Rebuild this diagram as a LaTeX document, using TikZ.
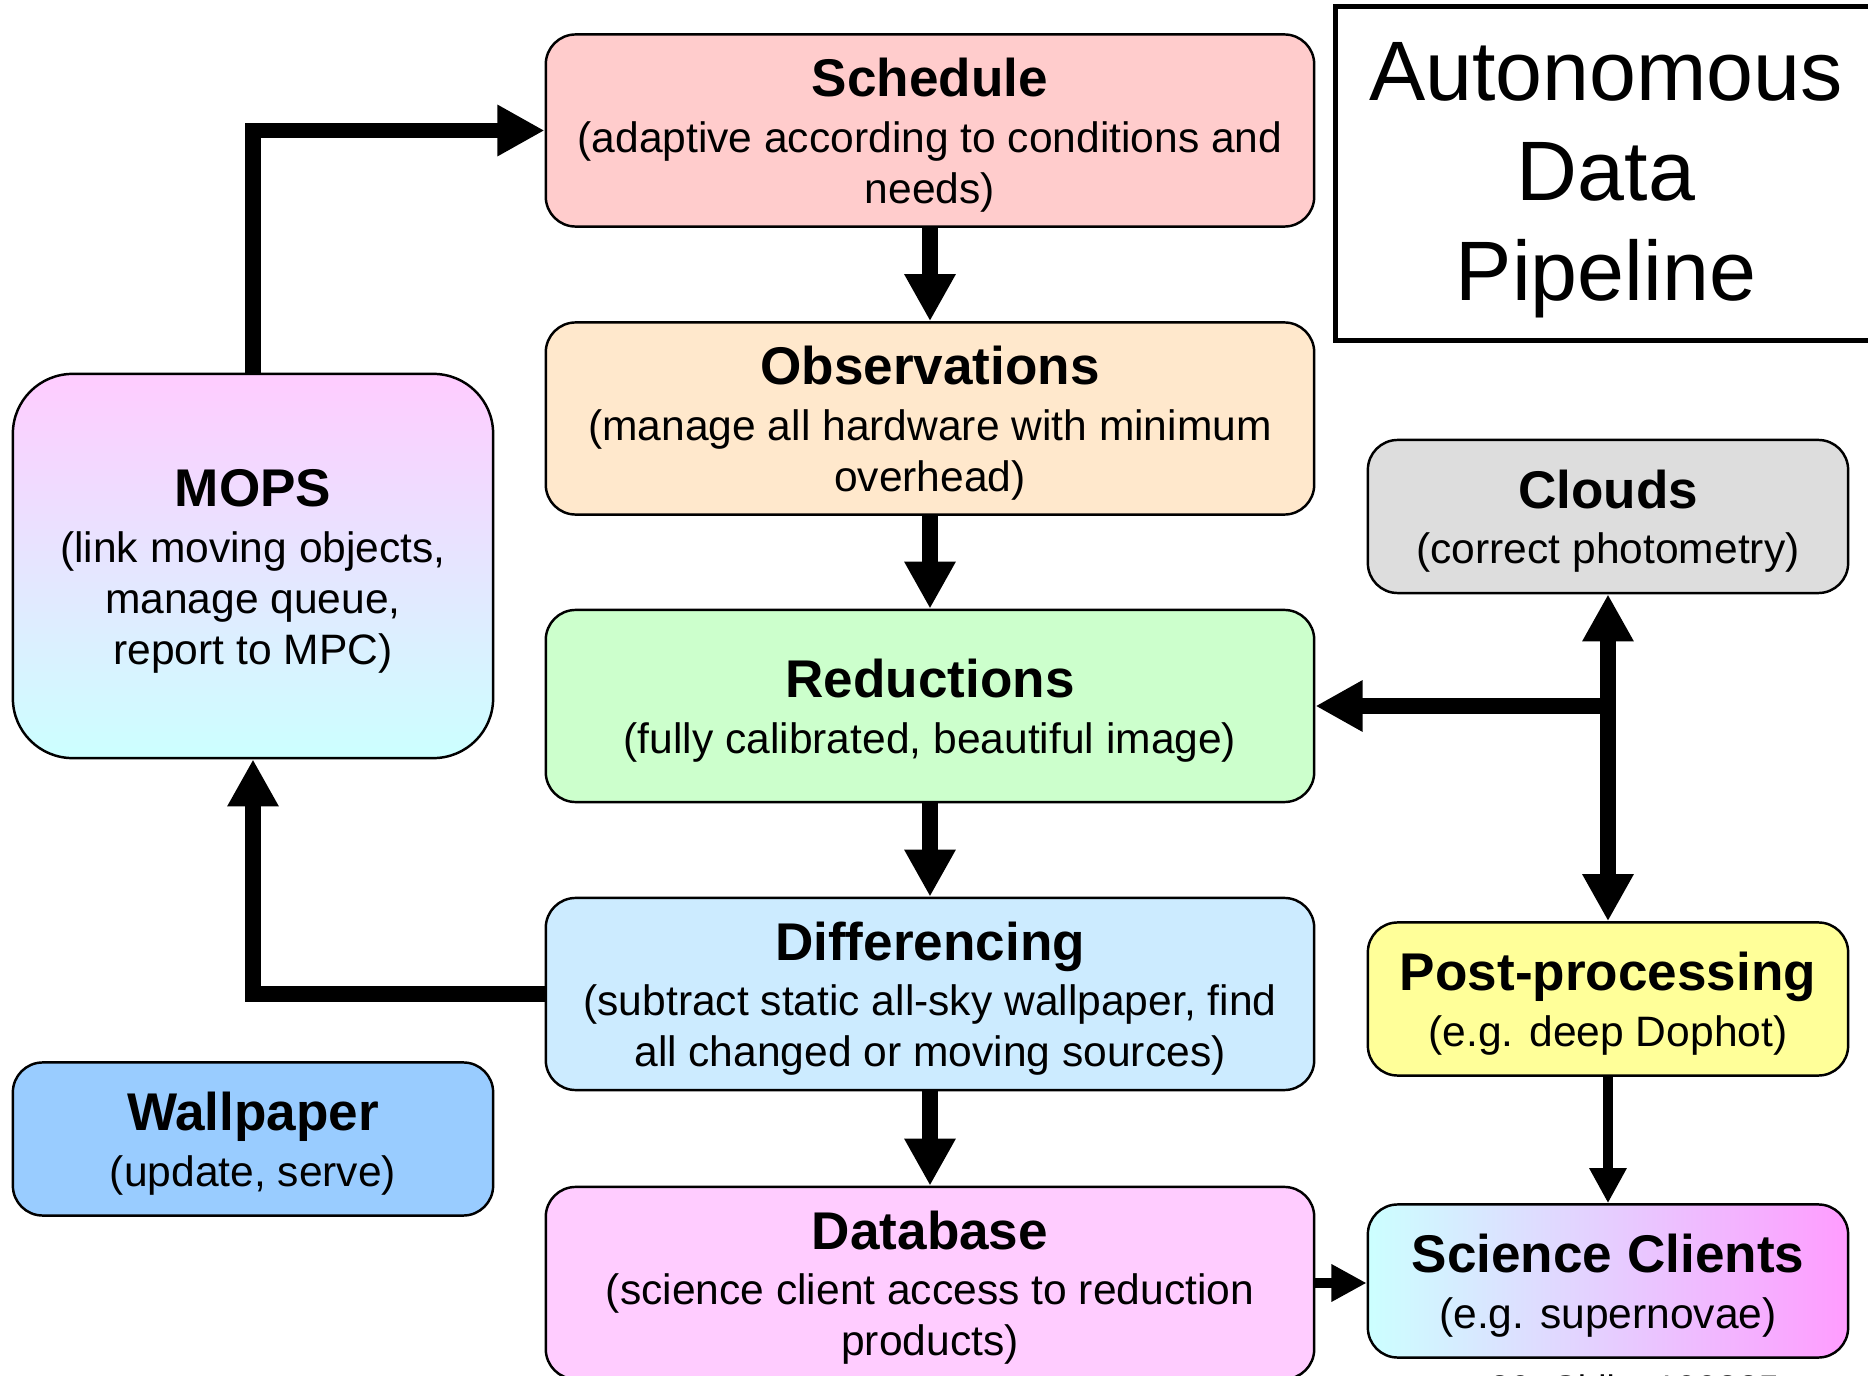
\documentclass[tikz,border=0pt]{standalone}
\usepackage{fontspec}
\setmainfont{Liberation Sans}
\usetikzlibrary{arrows.meta,positioning}

\definecolor{schedfill}{HTML}{FFCCCC}
\definecolor{obsfill}{HTML}{FFE8CC}
\definecolor{redfill}{HTML}{CCFFCC}
\definecolor{difffill}{HTML}{CCEBFF}
\definecolor{dbfill}{HTML}{FFCCFF}
\definecolor{wallfill}{HTML}{99CCFF}
\definecolor{cloudfill}{HTML}{DDDDDD}
\definecolor{postfill}{HTML}{FFFF99}
\definecolor{cyanfill}{HTML}{CCFFFF}
\definecolor{pinkfill}{HTML}{FF9CFF}

\newcommand{\hd}[1]{{\fontsize{15.1}{18}\selectfont\bfseries\rule{0pt}{13.6pt}#1}}

\begin{document}
\begin{tikzpicture}[x=0.01cm, y=-0.01cm,
                    box_style/.style={draw=black, line width=0.7pt, rounded corners=8.5pt, align=center,
                                      inner sep=0pt, font=\fontsize{12.1}{14.5}\selectfont},
                    main_style/.style={box_style, minimum width=7.68cm, minimum height=1.92cm},
                    side_style/.style={box_style, minimum width=4.8cm, minimum height=1.53cm},
                    flow_style/.style={draw=black, line width=4.5pt, -{Triangle[length=13.4pt,width=13.7pt]}},
                    thin_style/.style={draw=black, line width=2.8pt, -{Triangle[length=10pt,width=10pt]}}]
                    \useasboundingbox (0,0) rectangle (1868,1376);
                    % pipeline column
                    \node[main_style, fill=schedfill] (sched) at (930, 130.5) {\hd{Schedule}\\[1.4pt](adaptive according to conditions and\\needs)};
                    \node[main_style, fill=obsfill] (obs) at (930, 418.5) {\hd{Observations}\\[1.4pt](manage all hardware with minimum\\overhead)};
                    \node[main_style, fill=redfill] (red) at (930, 706) {\hd{Reductions}\\[1.4pt](fully calibrated, beautiful image)};
                    \node[main_style, fill=difffill] (diff) at (930, 994) {\hd{Differencing}\\[1.4pt](subtract static all-sky wallpaper, find\\all changed or moving sources)};
                    \node[main_style, fill=dbfill] (db) at (930, 1283) {\hd{Database}\\[1.4pt](science client access to reduction\\products)};
                    % left column
                    \node[side_style, minimum height=3.84cm, rounded corners=17pt, top color=dbfill, bottom color=cyanfill] (mops) at (253, 566) {\hd{MOPS}\\[1.4pt](link moving objects,\\manage queue,\\report to MPC)};
                    \node[side_style, fill=wallfill] (wall) at (253, 1139) {\hd{Wallpaper}\\[1.4pt](update, serve)};
                    % right column
                    \node[side_style, fill=cloudfill] (clouds) at (1608, 516.5) {\hd{Clouds}\\[1.4pt](correct photometry)};
                    \node[side_style, fill=postfill] (post) at (1608, 999) {\hd{Post-processing}\\[1.4pt](e.g. deep Dophot)};
                    \node[side_style, left color=cyanfill, right color=pinkfill] (sci) at (1608, 1281) {\hd{Science Clients}\\[1.4pt](e.g. supernovae)};
                    % title
                    \draw[line width=1.4pt] (1335.5, 6.5) rectangle (1885, 340.5);
                    \node[align=center, inner sep=0pt, font=\fontsize{24}{28.5}\selectfont] (title) at (1606, 180) {Autonomous\\Data\\Pipeline};
                    % slide footer, cut off by the page edge
                    \node[anchor=base west, inner sep=0pt, font=\fontsize{10.5}{12}\selectfont] (foot) at (1489, 1401) {30\ \ Chile\ \ 100325};
                    % connectors
                    \coordinate (junc) at (clouds.south |- red.east);
                    \draw[flow_style] (sched) -- (obs);
                    \draw[flow_style] (obs) -- (red);
                    \draw[flow_style] (red) -- (diff);
                    \draw[flow_style] (diff) -- (db);
                    \draw[flow_style] (mops.north) |- (sched.west);
                    \draw[flow_style] (diff.west) -| (mops.south);
                    \draw[flow_style, {Triangle[length=13.4pt,width=13.7pt]}-{Triangle[length=13.4pt,width=13.7pt]}] (clouds.south) -- (post.north);
                    \draw[flow_style] (junc) -- (red.east);
                    \draw[thin_style] (post) -- (sci);
                    \draw[thin_style] (db.east) -- (sci.west |- db.east);
                \end{tikzpicture}
\end{document}
